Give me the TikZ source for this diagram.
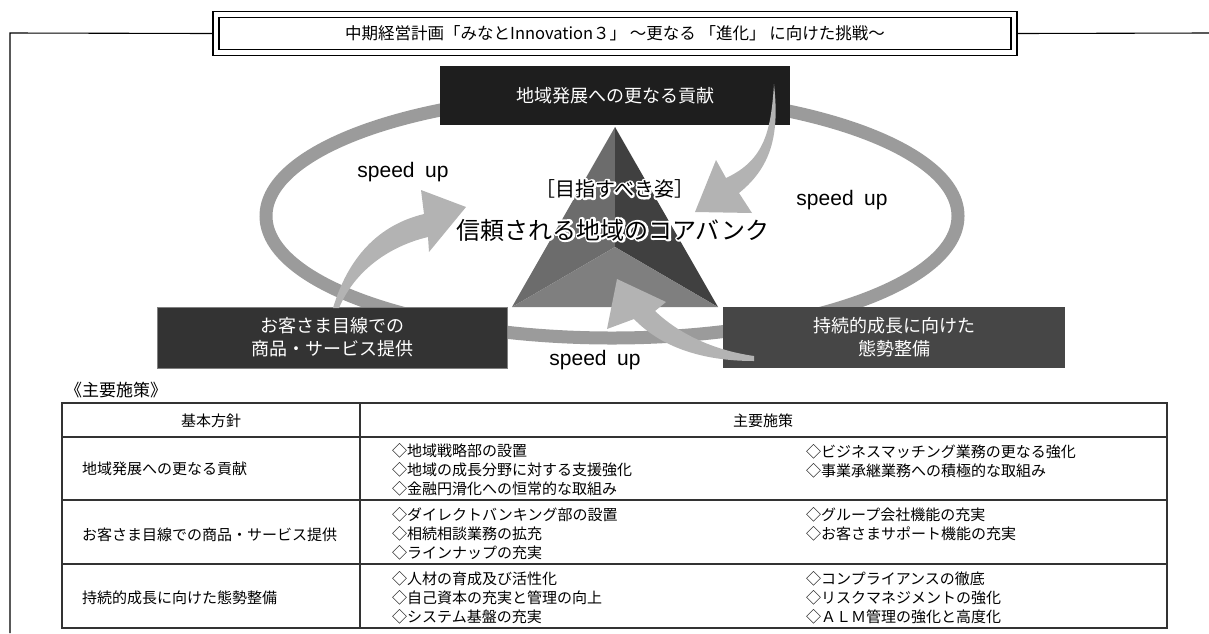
\documentclass[tikz,border=0pt]{standalone}
\usepackage{fontspec}
\setmainfont{Noto Sans CJK JP}
\newfontfamily\spdfont{Liberation Sans}
\usetikzlibrary{calc}
\definecolor{topboxc}{HTML}{1E1E1E}
\definecolor{leftboxc}{HTML}{333333}
\definecolor{rightboxc}{HTML}{464646}
\definecolor{ringc}{HTML}{9B9B9B}
\definecolor{arrowc}{HTML}{B3B3B3}
\definecolor{pyrleftc}{HTML}{6C6C6C}
\definecolor{pyrrightc}{HTML}{404040}
\definecolor{pyrbottomc}{HTML}{7F7F7F}
\newcommand{\halotext}[1]{\special{pdf:code q 1 Tr 4 w 1 J 1 j 1 1 1 RG}\rlap{#1}\special{pdf:code Q}#1}
\tikzset{
  darkbox/.style={inner sep=0pt, text=white, align=center, font=\fontsize{18pt}{23pt}\selectfont},
  blockarrow/.style={fill=arrowc, draw=none},
  spdlabel/.style={font=\spdfont\fontsize{21pt}{24pt}\selectfont, inner sep=0pt},
  cell/.style={anchor=west, inner sep=0pt, align=left, font=\fontsize{15pt}{19pt}\selectfont},
  headcell/.style={inner sep=0pt, font=\fontsize{15pt}{19pt}\selectfont},
  tline/.style={line width=1.1pt, draw=black!80},
  frameline/.style={line width=1.1pt, draw=black},
  aimfont/.style={font=\fontsize{20pt}{24pt}\selectfont, inner sep=0pt},
  visionfont/.style={font=\fontsize{24pt}{28pt}\selectfont, inner sep=0pt},
}
\begin{document}
\begin{tikzpicture}[x=1pt,y=-1pt]
\useasboundingbox (0,0) rectangle (1209,633);
% outer frame and title
\coordinate (tl) at (10,33);
\coordinate (tr) at (1209,33);
\coordinate (bl) at (10,633);
\node[draw, double, line width=1.3pt, double distance=4.7pt, minimum width=798pt, minimum height=38pt, inner sep=0pt, font=\fontsize{16.5pt}{18pt}\selectfont] (title) at (615,33.5) {中期経営計画「みなとInnovation３」 ～更なる 「進化」 に向けた挑戦～};
\draw[frameline] (bl) -- (tl) -- ([xshift=-3pt]title.west);
\draw[frameline] ([xshift=3pt]title.east) -- (tr);
% ring
\draw[ringc, line width=13pt] (612,216) ellipse [x radius=346pt, y radius=122pt];
% pyramid
\coordinate (apex) at (615,127);
\coordinate (pl) at (512,307);
\coordinate (pr) at (718,307);
\coordinate (pc) at (615,247);
\fill[pyrleftc] (apex) -- (pl) -- (pc) -- cycle;
\fill[pyrrightc] (apex) -- (pc) -- (pr) -- cycle;
\fill[pyrbottomc] (pl) -- (pc) -- (pr) -- cycle;
% boxes
\node[darkbox, fill=topboxc, minimum width=350pt, minimum height=59pt] (goal1) at (615,95.5) {地域発展への更なる貢献};
\node[darkbox, fill=leftboxc, draw=gray, line width=0.8pt, minimum width=350pt, minimum height=61pt] (goal2) at (332,337.5) {お客さま目線での\\商品・サービス提供};
\node[darkbox, fill=rightboxc, minimum width=342pt, minimum height=61pt] (goal3) at (894,337.5) {持続的成長に向けた\\態勢整備};
% curved block arrows
\fill[blockarrow] (774,84) .. controls (771,130) and (765,160) .. (726,178) -- (716,160) -- (695,212) -- (752,213) -- (739,193) .. controls (774,165) and (779,130) .. (774,84) -- cycle;
\fill[blockarrow] (333,308) .. controls (348,258) and (378,225) .. (424,214) -- (421,190) -- (466,207) -- (429,252) -- (428,237) .. controls (390,246) and (355,270) .. (339,308) -- cycle;
\fill[blockarrow] (754,356) .. controls (712,350) and (678,333) .. (655,311) -- (666,302) -- (617,279) -- (607,329) -- (634,319) .. controls (660,346) and (700,361) .. (754,361) -- cycle;
% speed up labels
\node[spdlabel] (su1) at (403,172) {speed\hspace{0.5em}up};
\node[spdlabel] (su2) at (842,200) {speed\hspace{0.5em}up};
\node[spdlabel] (su3) at (595,360) {speed\hspace{0.5em}up};
% centre texts with white outline
\node[aimfont] (aim) at (615,189) {\halotext{［目指すべき姿］}};
\node[visionfont] (vision) at (613,230) {\halotext{信頼される地域のコアバンク}};
% section label
\node[anchor=west, inner sep=0pt, font=\fontsize{17pt}{19pt}\selectfont] (sec) at (65,390) {《主要施策》};
% table
\draw[tline] (62,403) rectangle (1167,628);
\draw[tline] (360,403) -- (360,628);
\draw[tline] (62,437) -- (1167,437);
\draw[tline] (62,500) -- (1167,500);
\draw[tline] (62,564) -- (1167,564);
\node[headcell] (hd1) at (211,421) {基本方針};
\node[headcell] (hd2) at (763,421) {主要施策};
\node[cell] (p1) at (82,469) {地域発展への更なる貢献};
\node[cell] (p2) at (82,535) {お客さま目線での商品・サービス提供};
\node[cell] (p3) at (82,598) {持続的成長に向けた態勢整備};
\node[cell] (m1a) at (392,470) {◇地域戦略部の設置\\◇地域の成長分野に対する支援強化\\◇金融円滑化への恒常的な取組み};
\node[cell] (m1b) at (806,461) {◇ビジネスマッチング業務の更なる強化\\◇事業承継業務への積極的な取組み};
\node[cell] (m2a) at (392,534) {◇ダイレクトバンキング部の設置\\◇相続相談業務の拡充\\◇ラインナップの充実};
\node[cell] (m2b) at (806,524.5) {◇グループ会社機能の充実\\◇お客さまサポート機能の充実};
\node[cell] (m3a) at (392,598) {◇人材の育成及び活性化\\◇自己資本の充実と管理の向上\\◇システム基盤の充実};
\node[cell] (m3b) at (806,598) {◇コンプライアンスの徹底\\◇リスクマネジメントの強化\\◇ＡＬＭ管理の強化と高度化};
\end{tikzpicture}
\end{document}
